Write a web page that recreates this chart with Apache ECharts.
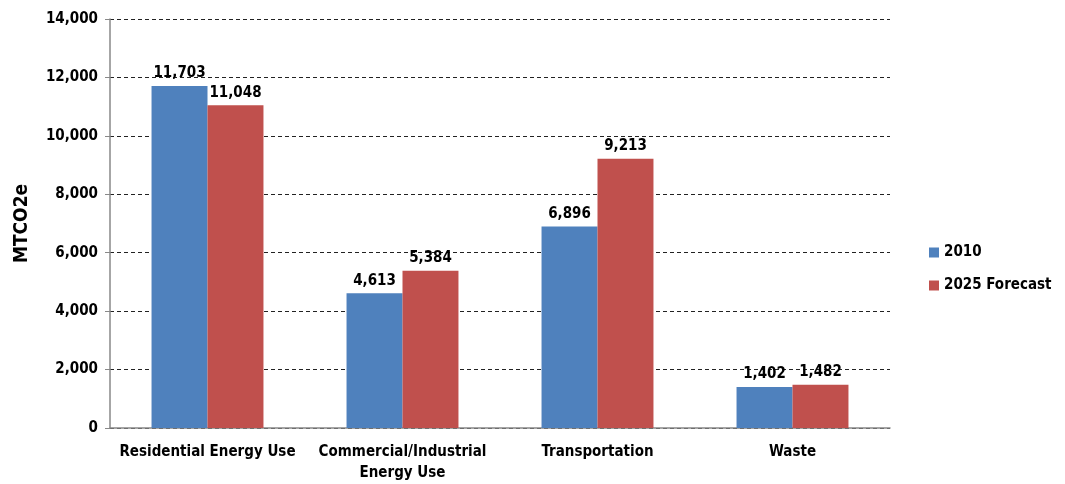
<!DOCTYPE html>
<html>
<head>
<meta charset="utf-8">
<script src="https://cdn.jsdelivr.net/npm/echarts@6/dist/echarts.min.js"></script>
<style>
html, body { margin: 0; padding: 0; background: #fff; }
#chart { width: 1065px; height: 484px; }
</style>
</head>
<body>
<div id="chart"></div>
<script>
// 数据
const categories = ["Residential Energy Use", "Commercial/Industrial\nEnergy Use", "Transportation", "Waste"];
const values2010 = [11703, 4613, 6896, 1402];
const values2025 = [11048, 5384, 9213, 1482];
const seriesNames = ["2010", "2025 Forecast"];

const fontFamily = "'Liberation Sans Narrow', 'DejaVu Sans Condensed', sans-serif";
const fmt = (v) => v.toLocaleString("en-US");

const chart = echarts.init(document.getElementById("chart"));

// 数据标签样式
const labelStyle = {
	show: true,
	position: "top",
	distance: 5,
	formatter: (p) => fmt(p.value),
	fontFamily: fontFamily,
	fontWeight: "bold",
	fontSize: 15,
	color: "#000",
};

chart.setOption({
	animation: false,
	textStyle: { fontFamily: fontFamily },
	grid: { left: 110, right: 175, top: 19, bottom: 55 },
	legend: {
		orient: "vertical",
		left: 924,
		top: 240,
		itemWidth: 10,
		itemHeight: 10,
		itemGap: 18,
		icon: "rect",
		data: seriesNames,
		textStyle: { fontFamily: fontFamily, fontWeight: "bold", fontSize: 15, color: "#000" },
	},
	xAxis: {
		type: "category",
		data: categories,
		axisLine: { lineStyle: { color: "#888", width: 1.5 } },
		axisTick: { show: false },
		axisLabel: {
			interval: 0,
			margin: 14,
			fontFamily: fontFamily,
			fontWeight: "bold",
			fontSize: 15,
			color: "#000",
			lineHeight: 21,
		},
	},
	yAxis: {
		type: "value",
		min: 0,
		max: 14000,
		interval: 2000,
		name: "MTCO2e",
		nameLocation: "middle",
		nameGap: 78,
		nameTextStyle: { fontFamily: fontFamily, fontWeight: "bold", fontSize: 19, color: "#000" },
		axisLine: { show: true, lineStyle: { color: "#888", width: 1.5 } },
		axisTick: { show: true, length: 5, lineStyle: { color: "#888" } },
		axisLabel: {
			formatter: fmt,
			fontFamily: fontFamily,
			fontWeight: "bold",
			fontSize: 15,
			color: "#000",
			margin: 12,
		},
		splitLine: { lineStyle: { color: "#222", type: [4, 3], width: 1 } },
	},
	series: [
		{
			name: seriesNames[0],
			type: "bar",
			data: values2010,
			barWidth: "28.7%",
			barGap: "0%",
			itemStyle: { color: "#4F81BD" },
			label: labelStyle,
		},
		{
			name: seriesNames[1],
			type: "bar",
			data: values2025,
			barWidth: "28.7%",
			barGap: "0%",
			itemStyle: { color: "#C0504D" },
			label: labelStyle,
		},
	],
});
</script>
</body>
</html>
